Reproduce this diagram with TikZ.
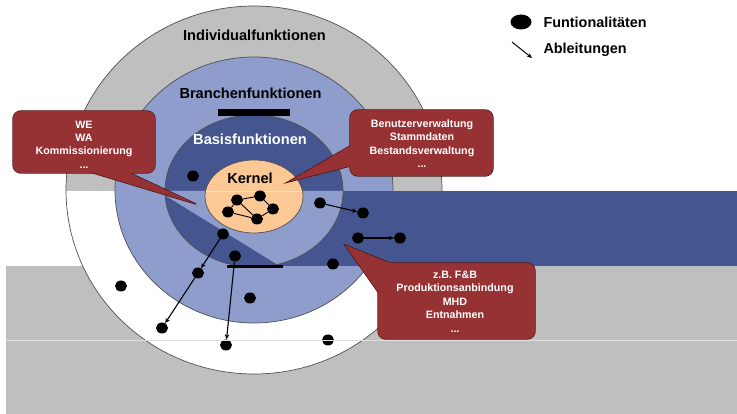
\documentclass[tikz,border=0pt]{standalone}
\usepackage{fontspec}
\setmainfont{Liberation Sans}
\usetikzlibrary{shapes.geometric,arrows.meta}
\definecolor{ringgrey}{HTML}{BFBFBF}
\definecolor{lightblue}{HTML}{8E9DCC}
\definecolor{darkblue}{HTML}{45558F}
\definecolor{kernelfill}{HTML}{FCC896}
\definecolor{calloutred}{HTML}{963234}
\definecolor{calloutedge}{HTML}{4A1616}
\definecolor{ringline}{HTML}{505050}
\begin{document}
\begin{tikzpicture}[x=1pt,y=-1pt,
  ring/.style={draw=ringline,line width=0.7pt},
  dot/.style={ellipse,fill=black,minimum width=12pt,minimum height=11pt,inner sep=0pt},
  derive/.style={-{Stealth[length=5pt,width=4.5pt]},line width=1.1pt},
  link/.style={line width=0.9pt},
  calloutedge/.style={fill=calloutred,draw=calloutedge,line width=1.4pt},
  calloutbody/.style={fill=calloutred},
  calltext/.style={text=white,font=\fontsize{10.7}{13.4}\selectfont\bfseries,align=center},
  title/.style={font=\fontsize{14.6}{16}\selectfont\bfseries},
  legendtext/.style={font=\fontsize{14.4}{16}\selectfont\bfseries,anchor=west}
]
\useasboundingbox (0,0) rectangle (737,414);
\fill[white] (0,0) rectangle (737,414);

% grey floor
\fill[ringgrey] (6,266) rectangle (737,414);

% outer ring: grey upper half, white lower half
\fill[white] (254,190) ellipse [x radius=188, y radius=184];
\begin{scope}
  \clip (0,0) rectangle (737,191);
  \fill[ringgrey] (254,190) ellipse [x radius=188, y radius=184];
\end{scope}
\draw[ring] (254,190) ellipse [x radius=188, y radius=184];

% industry ring
\fill[lightblue] (254,190) ellipse [x radius=139, y radius=133];
\draw[ring] (254,190) ellipse [x radius=139, y radius=133];

% dark band to the right
\fill[darkblue] (254,191) rectangle (737,266);

% base ring
\fill[darkblue] (254,191) ellipse [x radius=89, y radius=76];
\begin{scope}
  \clip (254,191) ellipse [x radius=89, y radius=76];
  \fill[lightblue] (158,191) -- (283,268) -- (350,268) -- (350,191) -- cycle;
\end{scope}
\draw[ring] (254,191) ellipse [x radius=89, y radius=76];

% black bars
\fill[black] (218,109.5) rectangle (290,116);
\fill[black] (227,265.5) rectangle (283,268.5);

% kernel
\fill[kernelfill] (254,196.5) ellipse [x radius=49, y radius=36.5];
\begin{scope}
  \clip (254,196.5) ellipse [x radius=49, y radius=36.5];
  \draw[kernelfill!55!white,line width=0.6pt] (200,191) -- (310,191);
\end{scope}
\draw[ring] (254,196.5) ellipse [x radius=49, y radius=36.5];

% ring titles
\node[title] (indiv) at (254.5,35) {Individualfunktionen};
\node[title] (branchen) at (250.5,93) {Branchenfunktionen};
\node[title,text=white] (basis) at (250,139) {Basisfunktionen};
\node[title] (kern) at (250,178) {Kernel};

% callouts: stroke body and pointer, then refill both so only the outer outline stays
\path[calloutedge,rounded corners=8pt] (13,111) rectangle (155,173);
\path[calloutedge] (196,204) -- (70,166) -- (115,166) -- cycle;
\path[calloutbody,rounded corners=8pt] (13,111) rectangle (155,173);
\path[calloutbody] (196,204) -- (70,166) -- (115,166) -- cycle;
\node[calltext] (weText) at (84,144.5) {WE\\WA\\Kommissionierung\\...};

\path[calloutedge,rounded corners=8pt] (350,110) rectangle (493,176);
\path[calloutedge] (288,182) -- (358,141.4) -- (358,164) -- cycle;
\path[calloutbody,rounded corners=8pt] (350,110) rectangle (493,176);
\path[calloutbody] (288,182) -- (358,141.4) -- (358,164) -- cycle;
\node[calltext] (userText) at (422,143.5) {Benutzerverwaltung\\Stammdaten\\Bestandsverwaltung\\...};

\path[calloutedge,rounded corners=8pt] (378,263) rectangle (535,339);
\path[calloutedge] (345,245) -- (403.5,268.4) -- (384.6,301.4) -- cycle;
\path[calloutbody,rounded corners=8pt] (378,263) rectangle (535,339);
\path[calloutbody] (345,245) -- (403.5,268.4) -- (384.6,301.4) -- cycle;
\node[calltext] (fbText) at (455,301.5) {z.B. F\&B\\Produktionsanbindung\\MHD\\Entnahmen\\...};

% kernel functionalities
\node[dot] (ka) at (237,200) {};
\node[dot] (kb) at (260,196) {};
\node[dot] (kc) at (273,209) {};
\node[dot] (kd) at (257,219) {};
\node[dot] (ke) at (228,212) {};
\draw[link] (ka) -- (kb);
\draw[link] (kb) -- (kc);
\draw[link] (kc) -- (kd);
\draw[link] (kd) -- (ke);
\draw[link] (ke) -- (ka);
\draw[link] (ka) -- (kd);

% further functionalities
\node[dot] (f) at (193,176) {};
\node[dot] (g) at (320,203) {};
\node[dot] (h) at (363,213) {};
\node[dot] (i) at (358,238) {};
\node[dot] (j) at (400,238) {};
\node[dot] (k) at (333,264) {};
\node[dot] (l) at (223,234) {};
\node[dot] (m) at (198,273) {};
\node[dot] (n) at (162,328) {};
\node[dot] (o) at (235,256) {};
\node[dot] (p) at (226,345) {};
\node[dot] (q) at (121,286) {};
\node[dot] (r) at (250,298) {};
\node[dot] (s) at (328,340) {};

% derivations
\draw[derive] (g) -- (h);
\draw[derive] (i) -- (j);
\draw[derive] (l) -- (m);
\draw[derive] (m) -- (n);
\draw[derive] (o) -- (p);

% faint seam across the floor
\draw[white!88!black,line width=0.8pt] (6,340) -- (737,340);

% legend
\node[dot,minimum width=21pt,minimum height=15pt] (legdot) at (521,22) {};
\node[legendtext] (legfun) at (540,22) {Funtionalitäten};
\coordinate (legA) at (512,42);
\coordinate (legB) at (532,58);
\draw[derive,line width=1pt] (legA) -- (legB);
\node[legendtext] (legabl) at (540,50) {Ableitungen};
\end{tikzpicture}
\end{document}
